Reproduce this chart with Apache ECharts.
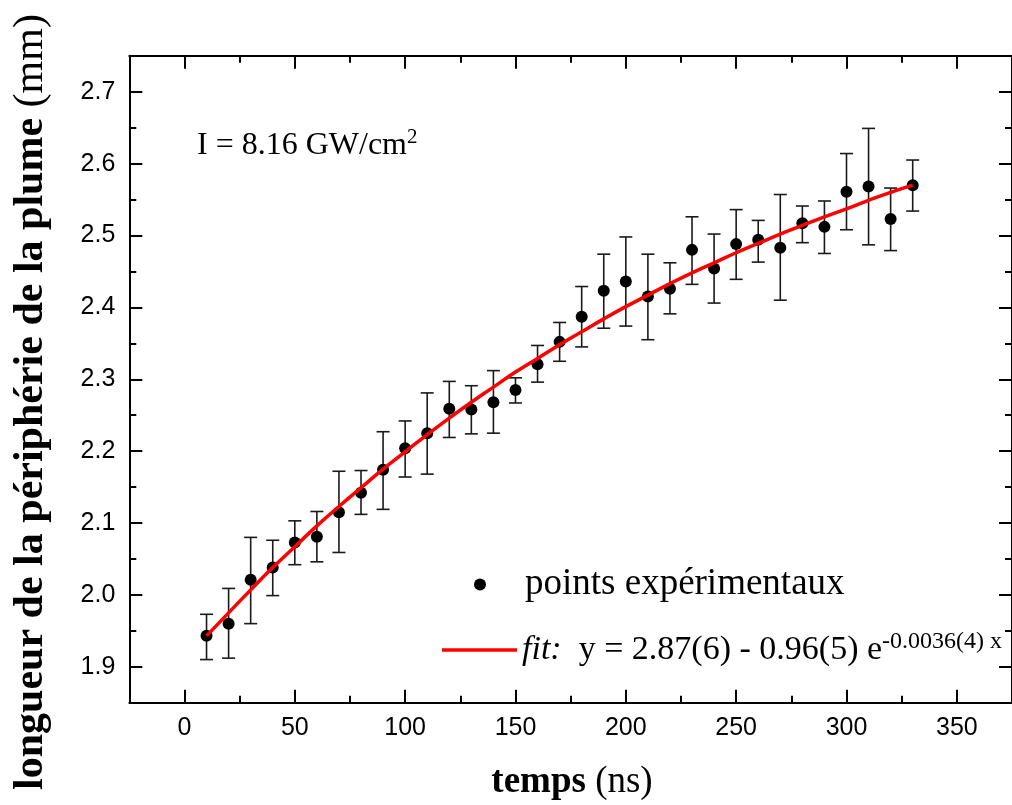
<!DOCTYPE html>
<html><head><meta charset="utf-8">
<script src="https://cdn.jsdelivr.net/npm/echarts@6/dist/echarts.min.js"></script>
<style>html,body{margin:0;padding:0;background:#fff}#c{width:1012px;height:805px}</style>
</head><body><div id="c"></div>
<script>
// ---- data ----
const times = [10,20,30,40,50,60,70,80,90,100,110,120,130,140,150,160,170,180,190,200,210,220,230,240,250,260,270,280,290,300,310,320,330];
const lengths = [1.943,1.960,2.021,2.038,2.073,2.081,2.115,2.142,2.174,2.204,2.225,2.259,2.258,2.268,2.285,2.321,2.352,2.387,2.423,2.436,2.415,2.426,2.480,2.454,2.488,2.494,2.483,2.517,2.512,2.561,2.568,2.523,2.570];
const errLow = [1.910,1.912,1.960,1.999,2.042,2.046,2.059,2.112,2.119,2.164,2.168,2.219,2.224,2.225,2.267,2.296,2.325,2.345,2.371,2.374,2.355,2.391,2.432,2.406,2.439,2.463,2.410,2.490,2.475,2.508,2.487,2.479,2.534];
const errHigh = [1.973,2.009,2.080,2.076,2.103,2.116,2.172,2.173,2.227,2.242,2.281,2.297,2.291,2.312,2.302,2.347,2.379,2.429,2.474,2.498,2.474,2.462,2.526,2.502,2.536,2.521,2.557,2.541,2.548,2.614,2.649,2.566,2.605];
const fitTimes = [10,20,30,40,50,60,70,80,90,100,110,120,130,140,150,160,170,180,190,200,210,220,230,240,250,260,270,280,290,300,310,320,330];
const fitValues = [1.943,1.975,2.007,2.038,2.067,2.096,2.123,2.149,2.175,2.199,2.223,2.246,2.268,2.289,2.310,2.329,2.348,2.366,2.384,2.401,2.417,2.433,2.448,2.462,2.476,2.489,2.502,2.514,2.526,2.537,2.549,2.560,2.570];
const xTickValues = [0,50,100,150,200,250,300,350];
const xMinorTickValues = [25,75,125,175,225,275,325];
const yTickValues = [1.9,2.0,2.1,2.2,2.3,2.4,2.5,2.6,2.7];
const yMinorTickValues = [1.95,2.05,2.15,2.25,2.35,2.45,2.55,2.65];
const xRange = [-25, 375];
const yRange = [1.85, 2.75];

const SERIF = 'Liberation Serif';
const SANS = 'Liberation Sans';

function xAxis(pos, major, showLabel) {
  return {
    type: 'value', position: pos, min: xRange[0], max: xRange[1],
    axisLine: { show: major, onZero: false, lineStyle: { color: '#000', width: 2 } },
    axisTick: { show: true, inside: true, length: major ? 13 : 7,
      customValues: major ? xTickValues : xMinorTickValues,
      lineStyle: { color: '#000', width: 2 } },
    axisLabel: showLabel ? { show: true, customValues: xTickValues, margin: 13,
      fontFamily: SANS, fontSize: 25, color: '#000' } : { show: false },
    splitLine: { show: false }
  };
}
function yAxis(pos, major, showLabel) {
  return {
    type: 'value', position: pos, min: yRange[0], max: yRange[1],
    axisLine: { show: major, onZero: false, lineStyle: { color: '#000', width: 2 } },
    axisTick: { show: true, inside: true, length: major ? 13 : 7,
      customValues: major ? yTickValues : yMinorTickValues,
      lineStyle: { color: '#000', width: 2 } },
    axisLabel: showLabel ? { show: true, customValues: yTickValues, margin: 14,
      fontFamily: SANS, fontSize: 25, color: '#000',
      formatter: v => Number(v).toFixed(1) } : { show: false },
    splitLine: { show: false }
  };
}

const chart = echarts.init(document.getElementById('c'), null, { renderer: 'canvas' });
chart.setOption({
  animation: false,
  backgroundColor: '#fff',
  grid: { left: 129.3, top: 55.8, width: 884.7, height: 646.9, containLabel: false },
  xAxis: [xAxis('bottom', true, true), xAxis('bottom', false, false), xAxis('top', true, false), xAxis('top', false, false)],
  yAxis: [yAxis('left', true, true), yAxis('left', false, false), yAxis('right', true, false), yAxis('right', false, false)],
  legend: [
    { data: [{ name: 'points', icon: 'circle', itemStyle: { color: '#000', opacity: 1 } }], orient: 'vertical', left: 474, top: 566, padding: 0,
      itemWidth: 12, itemHeight: 12, selectedMode: false,
      formatter: () => '{p|points expérimentaux}',
      textStyle: { rich: { p: { fontFamily: SERIF, fontSize: 37, lineHeight: 44, color: '#000', padding: [0,0,0,34] } } } },
    { data: [{ name: 'fit', icon: 'rect', itemStyle: { color: '#ff0000' } }], orient: 'vertical', left: 442, top: 630, padding: 0,
      itemWidth: 75, itemHeight: 3.5, selectedMode: false,
      formatter: () => '{i|fit:}{m|  y = 2.87(6) - 0.96(5) e}{s|-0.0036(4) x}',
      textStyle: { rich: {
        i: { fontFamily: SERIF, fontStyle: 'italic', fontSize: 34, lineHeight: 40, color: '#000' },
        m: { fontFamily: SERIF, fontSize: 34, lineHeight: 40, color: '#000' },
        s: { fontFamily: SERIF, fontSize: 24, lineHeight: 22, color: '#000', verticalAlign: 'top' }
      } } }
  ],
  graphic: [
    { type: 'text', left: 197, top: 127, silent: true,
      style: { text: '{a|I = 8.16 GW/cm}{s|2}', rich: {
        a: { fontFamily: SERIF, fontSize: 32, lineHeight: 38, fill: '#000' },
        s: { fontFamily: SERIF, fontSize: 21, lineHeight: 20, fill: '#000', verticalAlign: 'top' } } } },
    { type: 'text', x: 572, y: 782, silent: true,
      style: { text: '{b|temps}{n| (ns)}', align: 'center', verticalAlign: 'middle', rich: {
        b: { fontFamily: SERIF, fontWeight: 'bold', fontSize: 37, fill: '#000' },
        n: { fontFamily: SERIF, fontSize: 37, fill: '#000' } } } },
    { type: 'text', x: 31, y: 402, rotation: Math.PI / 2, silent: true,
      style: { text: '{b|longueur de la périphérie de la plume}{n| (mm)}', align: 'center', verticalAlign: 'middle', rich: {
        b: { fontFamily: SERIF, fontWeight: 'bold', fontSize: 42, fill: '#000' },
        n: { fontFamily: SERIF, fontSize: 42, fill: '#000' } } } }
  ],
  series: [
    {
      type: 'custom', name: 'errors', xAxisIndex: 0, yAxisIndex: 0, z: 2, silent: true,
      data: times.map((t, i) => [t, errLow[i], errHigh[i]]),
      encode: { x: 0, y: [1, 2] },
      renderItem: function (params, api) {
        const x = api.value(0);
        const lo = api.coord([x, api.value(1)]);
        const hi = api.coord([x, api.value(2)]);
        const w = 6.5;
        const st = { stroke: '#1a1a1a', lineWidth: 1.6 };
        return { type: 'group', children: [
          { type: 'line', shape: { x1: lo[0], y1: lo[1], x2: hi[0], y2: hi[1] }, style: st },
          { type: 'line', shape: { x1: lo[0] - w, y1: lo[1], x2: lo[0] + w, y2: lo[1] }, style: st },
          { type: 'line', shape: { x1: hi[0] - w, y1: hi[1], x2: hi[0] + w, y2: hi[1] }, style: st }
        ] };
      }
    },
    {
      type: 'scatter', name: 'points', xAxisIndex: 0, yAxisIndex: 0, z: 3,
      symbol: 'circle', symbolSize: 12, itemStyle: { color: '#000', opacity: 1 },
      data: times.map((t, i) => [t, lengths[i]])
    },
    {
      type: 'line', name: 'fit', xAxisIndex: 0, yAxisIndex: 0, z: 4,
      symbol: 'none', showSymbol: false, smooth: true,
      lineStyle: { color: '#ff0000', width: 3.5 }, itemStyle: { color: '#ff0000' },
      data: fitTimes.map((t, i) => [t, fitValues[i]])
    }
  ]
});
</script>
</body></html>
